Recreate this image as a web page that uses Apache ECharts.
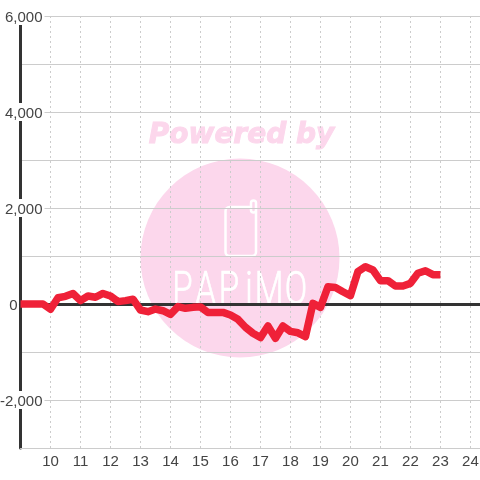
<!DOCTYPE html>
<html><head><meta charset="utf-8">
<style>html,body{margin:0;padding:0;background:#fff}#c{width:480px;height:480px}</style>
<script src="https://cdn.jsdelivr.net/npm/echarts@6/dist/echarts.min.js"></script>
</head><body><div id="c"></div>
<script>
var hours=[9,9.25,9.5,9.75,10,10.25,10.5,10.75,11,11.25,11.5,11.75,12,12.25,12.5,12.75,13,13.25,13.5,13.75,14,14.25,14.5,14.75,15,15.25,15.5,15.75,16,16.25,16.5,16.75,17,17.25,17.5,17.75,18,18.25,18.5,18.75,19,19.25,19.5,19.75,20,20.25,20.5,20.75,21,21.25,21.5,21.75,22,22.25,22.5,22.75,23];
var values=[0,0,0,0,-110,130,160,220,70,167,140,220,167,50,70,100,-125,-160,-105,-140,-215,-55,-90,-70,-60,-175,-175,-175,-230,-320,-485,-610,-700,-458,-715,-458,-570,-600,-680,14,-70,360,345,256,173,673,777,708,486,486,375,375,430,640,694,611,611];
var yLabels={'6000':'6,000','4000':'4,000','2000':'2,000','0':'0','-2000':'-2,000'};
var brand=['P','A','P','i','M','O'];
var brandX=[182.5,205.5,229,249,269,296];
var pink='#fcd7ec';
var chart=echarts.init(document.getElementById('c'),null,{renderer:'canvas'});
var graphics=[
 {type:'circle',silent:true,z:-5,shape:{cx:240,cy:258,r:99.5},style:{fill:pink}},
 {type:'text',silent:true,z:-5,x:241.5,y:136,style:{text:'Powered by',fill:pink,stroke:pink,lineWidth:1,font:'italic bold 28px "DejaVu Sans"',align:'center',verticalAlign:'middle'}},
 {type:'rect',silent:true,z:-4,shape:{x:225.5,y:207,width:30.5,height:49,r:4},style:{fill:'none',stroke:'#fff',lineWidth:2.5}},
 {type:'rect',silent:true,z:-4,shape:{x:251,y:200.5,width:5,height:12,r:2.5},style:{fill:pink,stroke:'#fff',lineWidth:2.5}}
];
brand.forEach(function(ch,i){
 graphics.push({type:'text',silent:true,z:-4,x:brandX[i],y:292,scaleX:0.72,style:{text:ch,fill:'#fff',stroke:'#fff',lineWidth:0.7,font:'300 46px Roboto',align:'center',verticalAlign:'middle'}});
});
chart.setOption({
 animation:false,
 backgroundColor:'#fff',
 graphic:graphics,
 grid:{left:20.5,right:0,top:16,bottom:32,outerBoundsMode:'none'},
 xAxis:[{type:'value',min:9,max:24.32,interval:1,position:'bottom',
   axisLine:{onZero:false,lineStyle:{color:'#ccc',width:1}},axisTick:{show:false},
   axisLabel:{color:'#444',fontSize:15,fontFamily:'Liberation Sans',margin:6,showMaxLabel:false,showMinLabel:false,
     formatter:function(v){return v>=10&&v<=24?String(v):'';}},
   splitLine:{show:true,lineStyle:{color:'#ccc',type:[2,3],width:1}}},
  {type:'value',min:9,max:24.32,interval:1,position:'bottom',
   axisLine:{onZero:true,lineStyle:{color:'#333',width:3}},axisTick:{show:false},axisLabel:{show:false},splitLine:{show:false}}],
 yAxis:{type:'value',min:-3000,max:6000,interval:1000,
   axisLine:{show:true,onZero:false,lineStyle:{color:'#333',width:3}},axisTick:{show:false},
   axisLabel:{color:'#444',fontSize:15,fontFamily:'Liberation Sans',margin:-24,align:'right',showMinLabel:true,showMaxLabel:true,
     formatter:function(v){var t=yLabels[String(v)];if(!t)return '';return v===0?'{z|0}':'{b|'+t+'}';},
     rich:{b:{backgroundColor:'#fff',color:'#444',fontSize:15,fontFamily:'Liberation Sans',padding:[3,2,0,6],lineHeight:16},
           z:{color:'#444',fontSize:15,fontFamily:'Liberation Sans',padding:[3,27,0,0]}}},
   splitLine:{show:true,lineStyle:{color:'#ccc',width:1}}},
 series:[{type:'line',xAxisIndex:0,data:hours.map(function(h,i){return [h,values[i]];}),showSymbol:false,symbol:'none',
   lineStyle:{color:'#ef2138',width:7.5,join:'round',cap:'butt'},z:10}]
});
</script></body></html>
